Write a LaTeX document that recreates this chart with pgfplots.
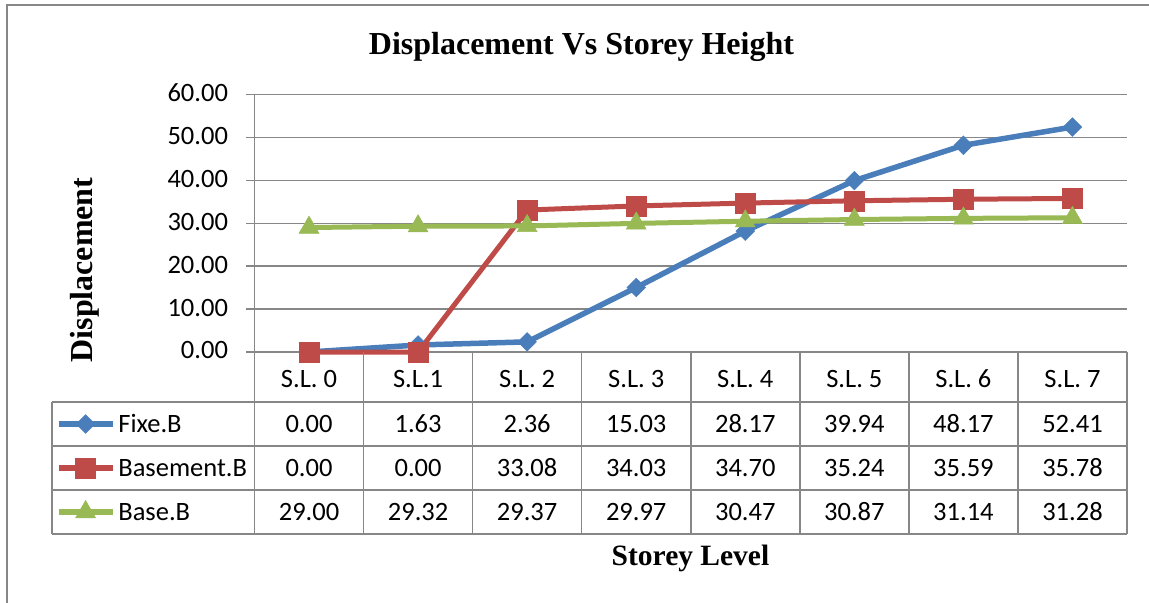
\documentclass[border=0pt]{standalone}
\usepackage{pgfplots}
\pgfplotsset{compat=1.18}
\usepackage{pgfplotstable}
\usepackage{fontspec}
\setmainfont{Carlito}
\newfontfamily\tnr{Liberation Serif}
\definecolor{sblue}{HTML}{4A7EBB}
\definecolor{sred}{HTML}{BE4B48}
\definecolor{sgreen}{HTML}{98B954}
\definecolor{gline}{HTML}{878787}
\newcommand{\tf}{\fontsize{26.5bp}{30bp}\selectfont}

\pgfplotstableread{
x fixe basement base
0 0.00 0.00 29.00
1 1.63 0.00 29.32
2 2.36 33.08 29.37
3 15.03 34.03 29.97
4 28.17 34.70 30.47
5 39.94 35.24 30.87
6 48.17 35.59 31.14
7 52.41 35.78 31.28
}\datatable

\def\ya{-11.65}
\def\yb{-21.90}
\def\yc{-32.16}
\def\yd{-42.41}
\def\xl{-2.358}

\pgfplotsset{
  valtext/.style={draw=none, mark=none, forget plot, point meta=explicit,
    nodes near coords={\pgfmathprintnumber[fixed,fixed zerofill,precision=2,assume math mode=true]{\pgfplotspointmeta}},
    every node near coord/.append style={anchor=center, font=\tf, text=black, inner sep=0pt}},
}

\begin{document}
\begin{tikzpicture}
\useasboundingbox (-254.5bp,-251bp) rectangle (894.5bp,352bp);
\draw[gline, line width=1.5bp] (-247.5bp,347bp) rectangle (1100bp,-400bp);
\node[font=\tnr\bfseries\fontsize{32bp}{36bp}\selectfont, anchor=base] at (327bp,297bp) {Displacement Vs Storey Height};
\node[font=\tnr\bfseries\fontsize{32bp}{36bp}\selectfont, anchor=base, rotate=90] at (-161.5bp,82bp) {Displacement};
\node[font=\tnr\bfseries\fontsize{29.5bp}{34bp}\selectfont, anchor=base] at (436bp,-213bp) {Storey Level};
\begin{axis}[
  width=872.5bp, height=257.5bp, scale only axis,
  xmin=-0.5, xmax=7.5, ymin=0, ymax=60,
  axis x line*=bottom, axis y line*=left,
  axis line style={gline, line width=1.5bp, -},
  xtick={0,...,7},
  xticklabels={S.L. 0,S.L.1,S.L. 2,S.L. 3,S.L. 4,S.L. 5,S.L. 6,S.L. 7},
  x tick style={draw=none},
  xticklabel style={anchor=center, yshift=-19bp, font=\tf},
  ytick={0,10,...,60},
  yticklabel style={font=\tf, anchor=east, xshift=-15bp, yshift=1.5bp, /pgf/number format/.cd, fixed, fixed zerofill, precision=2, assume math mode=true},
  y tick style={gline, line width=1.5bp},
  tick align=outside, major tick length=8bp,
  ymajorgrids, grid style={gline, line width=1.5bp},
  clip=false,
  legend cell align=left,
  legend style={at={(axis cs:\xl,\ya)}, anchor=north west, draw=none, fill=none,
    inner sep=0pt, outer sep=0pt, row sep=0pt, column sep=3bp, font=\tf,
    nodes={inner sep=0pt, text height=30.5bp, text depth=13.5bp}},
  legend image code/.code={\path (0bp,0bp); \draw[mark repeat=2, mark phase=2, #1] plot coordinates {(4bp,0bp) (31bp,0bp) (58bp,0bp)};},
]
\addplot[sblue, line width=5.5bp, mark=square*, mark size=6.6bp, mark options={rotate=45, fill=sblue, line width=0.5bp}] table[x=x, y=fixe] {\datatable};
\addlegendentry{Fixe.B}
\addplot[sred, line width=5bp, mark=square*, mark size=10bp, mark options={fill=sred, line width=0.5bp}] table[x=x, y=basement] {\datatable};
\addlegendentry{Basement.B}
\addplot[sgreen, line width=5bp, mark=triangle*, mark size=11.5bp, mark options={fill=sgreen, line width=0.5bp}] table[x=x, y=base] {\datatable};
\addlegendentry{Base.B}

\addplot[valtext] table[x=x, y expr=-16.78, meta=fixe] {\datatable};
\addplot[valtext] table[x=x, y expr=-27.03, meta=basement] {\datatable};
\addplot[valtext] table[x=x, y expr=-37.28, meta=base] {\datatable};

\draw[gline, line width=1.5bp]
  (axis cs:\xl,\ya) -- (axis cs:7.5,\ya)
  (axis cs:\xl,\yb) -- (axis cs:7.5,\yb)
  (axis cs:\xl,\yc) -- (axis cs:7.5,\yc)
  (axis cs:\xl,\yd) -- (axis cs:7.5,\yd)
  (axis cs:\xl,\ya) -- (axis cs:\xl,\yd)
  (axis cs:-0.5,0) -- (axis cs:-0.5,\yd)
  (axis cs:0.5,0) -- (axis cs:0.5,\yd)
  (axis cs:1.5,0) -- (axis cs:1.5,\yd)
  (axis cs:2.5,0) -- (axis cs:2.5,\yd)
  (axis cs:3.5,0) -- (axis cs:3.5,\yd)
  (axis cs:4.5,0) -- (axis cs:4.5,\yd)
  (axis cs:5.5,0) -- (axis cs:5.5,\yd)
  (axis cs:6.5,0) -- (axis cs:6.5,\yd)
  (axis cs:7.5,0) -- (axis cs:7.5,\yd);
\end{axis}
\end{tikzpicture}
\end{document}
